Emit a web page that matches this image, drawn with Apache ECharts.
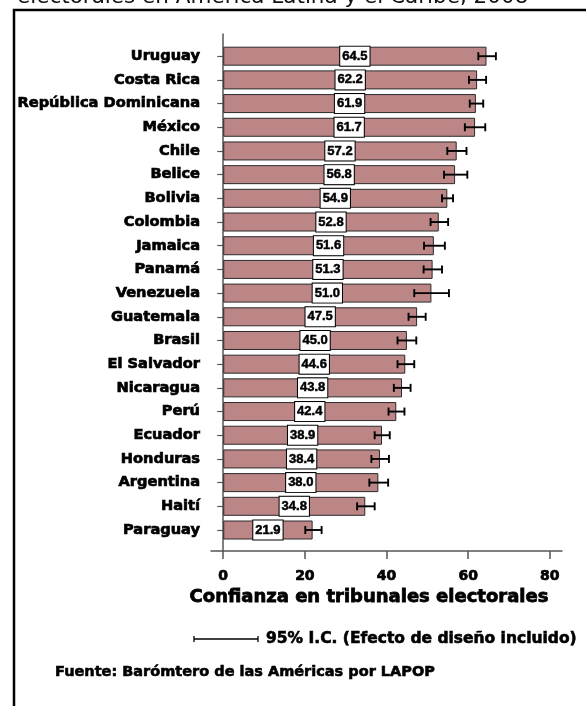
<!DOCTYPE html>
<html>
<head>
<meta charset="utf-8">
<script src="https://cdn.jsdelivr.net/npm/echarts@6/dist/echarts.min.js"></script>
<style>
html,body{margin:0;padding:0;background:#fff;}
#main{width:586px;height:706px;}
</style>
</head>
<body>
<div id="main"></div>
<script>
var countries = ['Uruguay','Costa Rica','República Dominicana','México','Chile','Belice','Bolivia','Colombia','Jamaica','Panamá','Venezuela','Guatemala','Brasil','El Salvador','Nicaragua','Perú','Ecuador','Honduras','Argentina','Haití','Paraguay'];
var values = [64.5,62.2,61.9,61.7,57.2,56.8,54.9,52.8,51.6,51.3,51.0,47.5,45.0,44.6,43.8,42.4,38.9,38.4,38.0,34.8,21.9];
var ciLow = [62.5,60.2,60.4,59.2,54.9,54.1,53.6,50.8,49.2,49.1,46.8,45.4,42.7,42.7,41.8,40.5,37.1,36.3,35.8,32.8,20.1];
var ciHigh = [66.8,64.4,63.7,64.2,59.6,59.8,56.3,55.1,54.3,53.6,55.3,49.6,47.3,46.8,45.9,44.4,40.8,40.6,40.4,37.1,24.1];
var xTicks = [0,20,40,60,80];
var titleText = 'electorales en América Latina y el Caribe, 2008';
var xAxisName = 'Confianza en tribunales electorales';
var legendText = '95% I.C. (Efecto de diseño incluido)';
var sourceText = 'Fuente: Barómtero de las Américas por LAPOP';

var chart = echarts.init(document.getElementById('main'), null, {renderer:'canvas'});
var axisColor = '#555';
var boldFont = 'DejaVu Sans';
var heavy = {textBorderColor:'#000', textBorderWidth:0.7};

var errData = countries.map(function(c,i){ return [ciLow[i], ciHigh[i], i]; });

var option = {
  backgroundColor:'#fff',
  animation:false,
  grid:[
    {left:211, right:24, top:44.35, bottom:706-541.85, containLabel:false},
    {left:211, right:24, top:34, bottom:155, containLabel:false}
  ],
  xAxis:[
    {gridIndex:0, type:'value', min:-3, max:83, show:false},
    {gridIndex:1, type:'value', min:-3, max:83,
     axisLine:{show:true, lineStyle:{color:axisColor, width:1.5}},
     axisTick:{show:true, length:8, customValues:xTicks, lineStyle:{color:axisColor, width:1.5}},
     axisLabel:Object.assign({show:true, customValues:xTicks, margin:18, fontFamily:boldFont, fontWeight:'bold', fontSize:14, color:'#000'}, heavy),
     splitLine:{show:false},
     name:xAxisName, nameLocation:'middle', nameGap:33,
     nameTextStyle:{fontFamily:boldFont, fontWeight:'bold', fontSize:18, color:'#000', padding:[0,35,0,0], textBorderColor:'#000', textBorderWidth:0.8}
    }
  ],
  yAxis:[
    {gridIndex:0, type:'category', data:countries, inverse:true,
     axisLine:{show:false},
     axisTick:{show:true, length:6, alignWithLabel:true, lineStyle:{color:axisColor, width:1.2}},
     axisLabel:Object.assign({margin:11, fontFamily:boldFont, fontWeight:'bold', fontSize:14.6, color:'#000'}, heavy),
     splitLine:{show:false}
    },
    {gridIndex:1, type:'value', min:0, max:1,
     axisLine:{show:true, lineStyle:{color:axisColor, width:1.5}},
     axisTick:{show:false}, axisLabel:{show:false}, splitLine:{show:false}
    }
  ],
  series:[
    {
      type:'bar', xAxisIndex:0, yAxisIndex:0,
      data:values, barWidth:19,
      itemStyle:{color:'#bc8586', borderColor:'#2a2a2a', borderWidth:1},
      label:{show:true, position:'inside', formatter:function(p){return p.value.toFixed(1);},
        fontFamily:'Liberation Sans', fontWeight:'bold', fontSize:13, color:'#000',
        textBorderColor:'#000', textBorderWidth:0.5,
        backgroundColor:'#fff', borderColor:'#000', borderWidth:1, padding:[3,2,3,2], lineHeight:13},
      z:2
    },
    {
      type:'custom', xAxisIndex:0, yAxisIndex:0,
      data:errData, z:5,
      renderItem:function(params, api){
        var lo = api.coord([api.value(0), api.value(2)]);
        var hi = api.coord([api.value(1), api.value(2)]);
        var h = 4;
        var st = {stroke:'#000', lineWidth:1.9};
        return {type:'group', children:[
          {type:'line', shape:{x1:lo[0], y1:lo[1], x2:hi[0], y2:hi[1]}, style:st},
          {type:'line', shape:{x1:lo[0], y1:lo[1]-h, x2:lo[0], y2:lo[1]+h}, style:st},
          {type:'line', shape:{x1:hi[0], y1:hi[1]-h, x2:hi[0], y2:hi[1]+h}, style:st}
        ]};
      }
    }
  ],
  graphic:[
    {type:'rect', shape:{x:14, y:10, width:700, height:800}, style:{fill:null, stroke:'#000', lineWidth:2.5}, silent:true},
    {type:'text', x:17, y:-2.5, style:{text:titleText, fontFamily:'DejaVu Sans', fontSize:21.5, fill:'#111', verticalAlign:'middle', align:'left'}},
    {type:'group', children:[
      {type:'line', shape:{x1:194, y1:639, x2:258, y2:639}, style:{stroke:'#000', lineWidth:1.3}},
      {type:'line', shape:{x1:194, y1:636, x2:194, y2:642}, style:{stroke:'#000', lineWidth:1.3}},
      {type:'line', shape:{x1:258, y1:636, x2:258, y2:642}, style:{stroke:'#000', lineWidth:1.3}}
    ]},
    {type:'text', x:266, y:639, style:{text:legendText, fontFamily:boldFont, fontWeight:'bold', fontSize:15.5, fill:'#000', verticalAlign:'middle', align:'left', stroke:'#000', lineWidth:0.6}},
    {type:'text', x:55, y:672, style:{text:sourceText, fontFamily:boldFont, fontWeight:'bold', fontSize:14.5, fill:'#000', verticalAlign:'middle', align:'left', stroke:'#000', lineWidth:0.6}}
  ]
};
chart.setOption(option);
</script>
</body>
</html>
